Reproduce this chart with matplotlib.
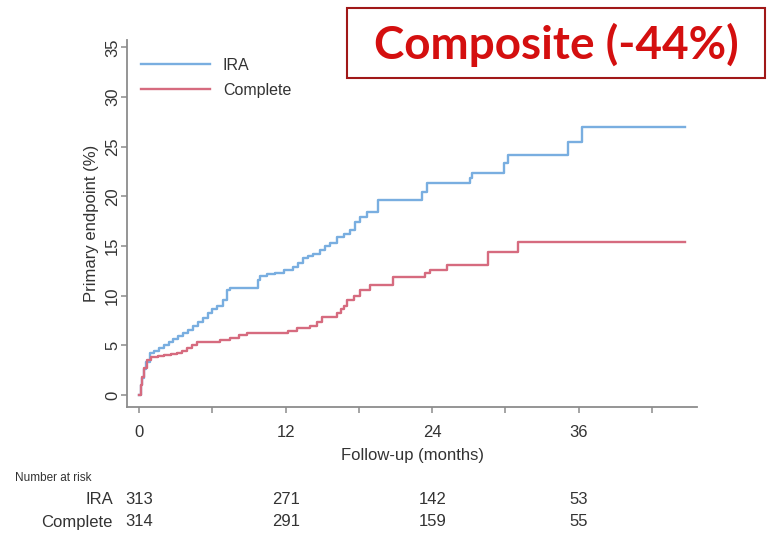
import matplotlib.pyplot as plt
from matplotlib.patches import Rectangle
from matplotlib.transforms import blended_transform_factory

plt.rcParams['font.family'] = ['Liberation Sans', 'DejaVu Sans']

# Kaplan-Meier style cumulative incidence (months, %)
ira_t = [0, 0.15, 0.25, 0.4, 0.57, 0.9, 1.2, 1.6, 2.0, 2.4, 2.8, 3.2, 3.6, 4.0, 4.4, 4.8,
         5.2, 5.6, 6.0, 6.4, 6.9, 7.2, 7.4, 9.7, 9.9, 10.5, 11.1, 11.9, 12.6, 13.0, 13.4,
         13.8, 14.2, 14.8, 15.2, 15.6, 16.2, 16.8, 17.3, 17.7, 18.1, 18.7, 19.6,
         23.2, 23.6, 27.1, 27.3, 29.9, 30.2, 35.1, 36.3, 44.7]
ira_v = [0, 1.0, 1.7, 2.6, 3.3, 4.2, 4.4, 4.7, 5.0, 5.3, 5.6, 5.9, 6.2, 6.6, 7.0, 7.4,
         7.8, 8.3, 8.7, 9.0, 9.6, 10.6, 10.8, 11.6, 12.0, 12.2, 12.3, 12.6, 12.9, 13.3, 13.8,
         14.0, 14.2, 14.6, 15.0, 15.3, 15.9, 16.2, 16.6, 17.4, 17.9, 18.4, 19.6,
         20.4, 21.4, 21.9, 22.4, 23.4, 24.2, 25.5, 27.0, 27.0]

comp_t = [0, 0.15, 0.25, 0.4, 0.6, 1.0, 1.5, 2.0, 2.6, 3.1, 3.5, 3.9, 4.3, 4.7, 6.6, 7.4,
          8.2, 8.8, 12.2, 12.9, 14.0, 14.6, 15.0, 16.2, 16.5, 16.8, 17.0, 17.6, 18.1, 18.9,
          20.8, 23.4, 23.8, 25.2, 28.6, 31.0, 44.7]
comp_v = [0, 1.0, 1.8, 2.7, 3.5, 3.8, 3.9, 4.0, 4.1, 4.2, 4.4, 4.7, 5.0, 5.3, 5.5, 5.7,
          6.0, 6.2, 6.5, 6.8, 7.0, 7.4, 7.9, 8.3, 8.7, 9.0, 9.6, 10.0, 10.6, 11.1,
          11.9, 12.3, 12.6, 13.1, 14.4, 15.4, 15.4]

risk_months = [0, 12, 24, 36]
risk_ira = [313, 271, 142, 53]
risk_comp = [314, 291, 159, 55]

fig = plt.figure(figsize=(7.72, 5.33), dpi=100)
ax = fig.add_axes([0.1645, 0.2364, 0.7385, 0.6886])

blue = '#79aee0'
red = '#d66b7f'
ax.step(ira_t, ira_v, where='post', color=blue, lw=1.7, label='IRA')
ax.step(comp_t, comp_v, where='post', color=red, lw=1.7, label='Complete')

ax.set_xlim(-1.0, 45.7)
ax.set_ylim(-1.2, 35.75)
ax.set_xticks(range(0, 43, 6))
ax.set_xticklabels([str(m) if m % 12 == 0 else '' for m in range(0, 43, 6)])
ax.set_yticks(range(0, 36, 5))
ax.set_yticklabels([str(v) for v in range(0, 36, 5)], rotation=90, va='center')
for s in ['top', 'right']:
    ax.spines[s].set_visible(False)
for s in ['left', 'bottom']:
    ax.spines[s].set_color('#8c8c8c')
    ax.spines[s].set_linewidth(1.3)
ax.tick_params(colors='#8c8c8c', labelcolor='#333333', labelsize=12, length=4, width=1.1)
ax.tick_params(axis='y', pad=1)
ax.tick_params(axis='x', pad=9)
ax.set_xlabel('Follow-up (months)', fontsize=12, color='#333333', labelpad=6)
ax.set_ylabel('Primary endpoint (%)', fontsize=12, color='#333333', labelpad=4)

leg = ax.legend(loc='upper left', bbox_to_anchor=(0.0, 0.99), frameon=False, fontsize=11.5,
                handlelength=4.3, labelspacing=0.6, labelcolor='#333333')

# number at risk table
tr = blended_transform_factory(ax.transData, fig.transFigure)
fig.text(15 / 772, 1 - 478 / 533, 'Number at risk', fontsize=8.5, color='#333333', va='center')
fig.text(113 / 772, 1 - 499 / 533, 'IRA', fontsize=12, color='#333333', ha='right', va='center')
fig.text(113 / 772, 1 - 522 / 533, 'Complete', fontsize=12, color='#333333', ha='right', va='center')
for m, a, b in zip(risk_months, risk_ira, risk_comp):
    ax.text(m, 1 - 499 / 533, str(a), transform=tr, fontsize=12, color='#333333', ha='center', va='center')
    ax.text(m, 1 - 522 / 533, str(b), transform=tr, fontsize=12, color='#333333', ha='center', va='center')

# title box
fig.patches.append(Rectangle((347 / 772, 1 - 78 / 533), 418 / 772, 70 / 533, transform=fig.transFigure,
                             facecolor='white', edgecolor='#a01818', lw=1.5))
fig.text(556 / 772, 1 - 45 / 533, 'Composite (-44%)', fontsize=33, fontweight='bold',
         family='Lato', color='#d40f0f', ha='center', va='center')

fig.savefig('out.png', dpi=100)
